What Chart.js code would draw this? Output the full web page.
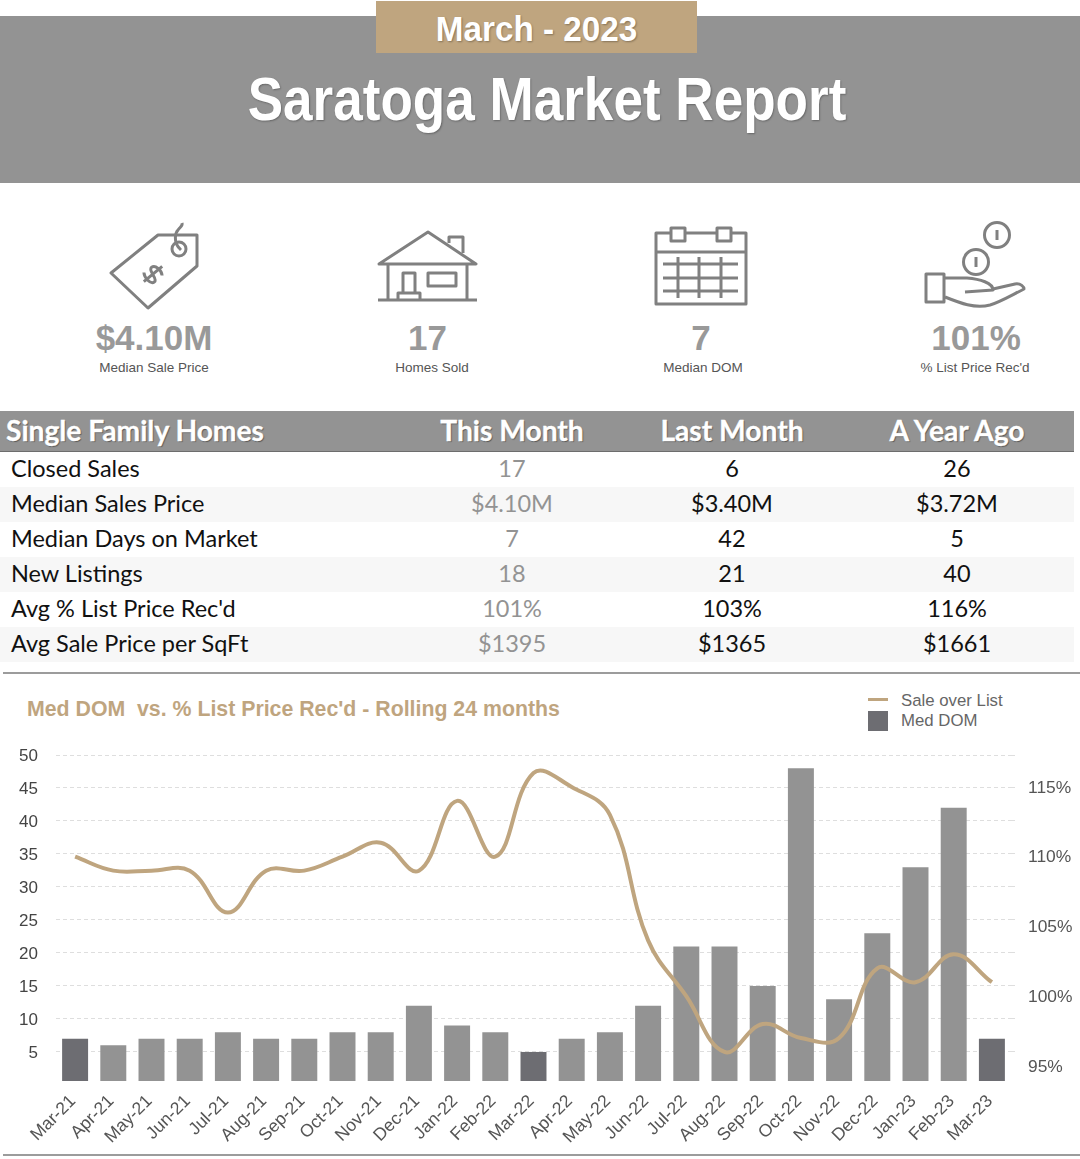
<!DOCTYPE html>
<html>
<head>
<meta charset="utf-8">
<title>Saratoga Market Report</title>
<script src="https://cdn.jsdelivr.net/npm/chart.js@4"></script>
<style>
html, body { margin: 0; padding: 0; background: #fff; }
#page { position: relative; width: 1080px; height: 1159px; overflow: hidden; }
#page div { position: absolute; }
#band { left: 0; top: 16px; width: 1080px; height: 167px; background: #939393; }
#month { left: 376px; top: 1px; width: 321px; height: 52px; background: #bfa57f; }
#monthText { left: 376px; top: 1px; width: 321px; color: #fff; text-align: center; transform: scaleX(.95);
  font: bold 35px/55px "Liberation Sans", sans-serif; text-shadow: 1px 1px 2px rgba(0,0,0,.3); }
#report { left: 0; top: 62px; width: 1094px; text-align: center; color: #fff; transform: scaleX(.87); font: bold 61px/74px "Liberation Sans", sans-serif; text-shadow: 1px 1px 2px rgba(0,0,0,.3); }
#icons { position: absolute; left: 0; top: 0; }
#icons * { fill: none; stroke: #808080; stroke-width: 3; stroke-linejoin: round; }
.kpi { width: 240px; text-align: center; top: 319px; }
.kpi b { display: block; font: bold 35px/38px "Liberation Sans", sans-serif; color: #999; }
.kpi span { display: block; font: 13.5px/20px "Liberation Sans", sans-serif; color: #555; padding-top: 1px; }
#tbl { position: absolute; left: 0; top: 411px; width: 1074px; border-collapse: collapse; table-layout: fixed; font: 23.5px "Lato", sans-serif; color: #111; }
#tbl th { background: #939393; color: #fff; font: bold 28.2px/38px "Lato", sans-serif; height: 38px; padding: 0 0 2px; border-bottom: 1px solid #6d6d6d; text-shadow: 1px 1px 1px rgba(0,0,0,.4); -webkit-text-stroke: .3px #fff; }
#tbl th:first-child { text-align: left; padding-left: 6px; }
#tbl td { height: 32px; padding: 0 0 3px; text-align: center; }
#tbl td:first-child { text-align: left; padding-left: 11px; }
#tbl td:nth-child(2) { color: #939393; }
#tbl tr:nth-child(even) td { background: #f7f7f7; }
.rule { height: 2px; background: #9c9c9c; }
#chart { position: absolute; left: 0; top: 680px; }
#title { left: 27px; top: 695px; font: bold 21.3px/28px "Liberation Sans", sans-serif; color: #bfa57f; white-space: pre; }
.leg { left: 901px; font: 16.8px/20px "Liberation Sans", sans-serif; color: #666; }
</style>
</head>
<body>
<div id="page">
  <div id="band"></div>
  <div id="month"></div>
  <div id="monthText">March - 2023</div>
  <div id="report">Saratoga Market Report</div>

  <svg id="icons" width="1080" height="400">
    <!-- price tag -->
    <path d="M158 235 L197 235 L197 266 L148 308 L111 273 Z"/>
    <circle cx="179" cy="249" r="7"/>
    <path d="M181 250 C172 242 176 232 178 230 C180 227 183 226 182 223"/>
    <path transform="translate(153 274) rotate(50)" d="M7 -6 C3 -9 -6 -8 -6 -3 C-6 2 7 -1 7 4 C7 9 -3 9 -7 6 M0 -12 L0 12"/>
    <!-- house -->
    <path d="M379 264 L428 232 L476 264 Z"/>
    <path d="M388 264 L388 300 M467 264 L467 300 M378 300 L477 300"/>
    <path d="M403 293 L403 273 L415 273 L415 293 M398 300 L398 293 L420 293 L420 300"/>
    <rect x="428" y="273" width="28" height="13"/>
    <path d="M449 243 L449 237 L463 237 L463 253"/>
    <!-- calendar -->
    <rect x="656" y="233" width="90" height="71"/>
    <path d="M656 252 L746 252"/>
    <rect x="671" y="228" width="14" height="13" style="fill:#fff"/>
    <rect x="717" y="228" width="14" height="13" style="fill:#fff"/>
    <path d="M663 264 L738 264 M663 278 L738 278 M663 291 L738 291 M678 257 L678 298 M699 257 L699 298 M721 257 L721 298"/>
    <!-- hand with coins -->
    <circle cx="997" cy="235" r="12.5"/>
    <path d="M997 230 L997 240"/>
    <circle cx="976" cy="262" r="12.5"/>
    <path d="M976 257 L976 267"/>
    <rect x="926" y="274" width="18" height="28"/>
    <path d="M945 278 L967 278 C980 279 993 283 993 290 L965 292"/>
    <path d="M993 289 L1015 284 C1021 283 1024 287 1024 289 C1010 296 1000 302 990 305 C975 309 960 303 945 297"/>
  </svg>

  <div class="kpi" style="left:34px"><b>$4.10M</b><span>Median Sale Price</span></div>
  <div class="kpi" style="left:312px"><b style="margin-left:-9px">17</b><span>Homes Sold</span></div>
  <div class="kpi" style="left:583px"><b style="margin-left:-4px">7</b><span>Median DOM</span></div>
  <div class="kpi" style="left:855px"><b style="margin-left:2px">101%</b><span>% List Price Rec'd</span></div>

  <table id="tbl">
    <colgroup><col style="width:400px"><col style="width:224px"><col style="width:216px"><col style="width:234px"></colgroup>
    <thead><tr><th>Single Family Homes</th><th>This Month</th><th>Last Month</th><th>A Year Ago</th></tr></thead>
    <tbody>
      <tr><td>Closed Sales</td><td>17</td><td>6</td><td>26</td></tr>
      <tr><td>Median Sales Price</td><td>$4.10M</td><td>$3.40M</td><td>$3.72M</td></tr>
      <tr><td>Median Days on Market</td><td>7</td><td>42</td><td>5</td></tr>
      <tr><td>New Listings</td><td>18</td><td>21</td><td>40</td></tr>
      <tr><td>Avg % List Price Rec'd</td><td>101%</td><td>103%</td><td>116%</td></tr>
      <tr><td>Avg Sale Price per SqFt</td><td>$1395</td><td>$1365</td><td>$1661</td></tr>
    </tbody>
  </table>

  <div class="rule" style="left:3px;top:672px;width:1077px"></div>
  <div id="title">Med DOM  vs. % List Price Rec'd - Rolling 24 months</div>
  <div style="left:868px;top:698px;width:20px;height:3px;background:#bfa57f"></div>
  <div style="left:868px;top:711px;width:20px;height:20px;background:#6d6d72"></div>
  <div class="leg" id="leg0" style="top:691px"></div>
  <div class="leg" id="leg1" style="top:711px"></div>
  <canvas id="chart" width="1080" height="470" style="width:1080px;height:470px"></canvas>
  <div class="rule" style="left:3px;top:1154px;width:1077px"></div>
</div>

<script>
const months = ["Mar-21", "Apr-21", "May-21", "Jun-21", "Jul-21", "Aug-21", "Sep-21", "Oct-21", "Nov-21", "Dec-21", "Jan-22", "Feb-22",
    "Mar-22", "Apr-22", "May-22", "Jun-22", "Jul-22", "Aug-22", "Sep-22", "Oct-22", "Nov-22", "Dec-22", "Jan-23", "Feb-23", "Mar-23"];
const medDom = [7, 6, 7, 7, 8, 7, 7, 8, 8, 12, 9, 8, 5, 7, 8, 12, 21, 21, 15, 48, 13, 23, 33, 42, 7];
const saleOverList = [110, 109, 109, 109, 106, 109, 109, 110, 111, 109, 114, 110, 116, 115, 113, 104, 100, 96, 98, 97, 97, 102, 101, 103, 101];
const domTicks = [5, 10, 15, 20, 25, 30, 35, 40, 45, 50];
const pctTicks = [95, 100, 105, 110, 115];
const highlighted = ["Mar-21", "Mar-22", "Mar-23"];

const gold = "#bfa57f";
const grey = "#939393";
const dark = "#6d6d72";
const tickFont = { family: "Liberation Sans", size: 17 };

new Chart(document.getElementById("chart"), {
    type: "bar",
    data: {
        labels: months,
        datasets: [
            {
                type: "line",
                label: "Sale over List",
                data: saleOverList,
                yAxisID: "pct",
                borderColor: gold,
                backgroundColor: gold,
                borderWidth: 4,
                tension: 0.4,
                pointRadius: 0,
                order: 1
            },
            {
                label: "Med DOM",
                data: medDom,
                yAxisID: "dom",
                backgroundColor: months.map(m => highlighted.includes(m) ? dark : grey),
                barPercentage: 0.68,
                categoryPercentage: 1,
                order: 2
            }
        ]
    },
    options: {
        responsive: false,
        animation: false,
        layout: { padding: { top: 75 } },
        plugins: { legend: { display: false }, tooltip: { enabled: false } },
        scales: {
            x: {
                grid: { display: false },
                border: { display: false },
                afterFit: s => { s.height = 69; },
                ticks: { font: { family: "Liberation Sans", size: 17.6 }, color: "#555", minRotation: 45, maxRotation: 45, autoSkip: false, padding: 2, labelOffset: -2 }
            },
            dom: {
                position: "left",
                min: 0.6,
                max: 50,
                afterBuildTicks: s => { s.ticks = domTicks.map(value => ({ value })); },
                afterFit: s => { s.width = 56; },
                border: { display: false, dash: [4, 3] },
                grid: { color: "#dedede", drawTicks: false },
                ticks: { font: tickFont, color: "#444", padding: 18, labelOffset: 1 }
            },
            // same range as dom, only carries the gridlines on past the last bar
            domEdge: {
                position: "right",
                weight: 0,
                min: 0.6,
                max: 50,
                afterBuildTicks: s => { s.ticks = domTicks.map(value => ({ value })); },
                afterFit: s => { s.width = 0; },
                border: { display: false },
                grid: { drawOnChartArea: false, color: "#dedede", tickLength: 7, tickBorderDash: [4, 3] },
                ticks: { display: false }
            },
            pct: {
                position: "right",
                weight: 1,
                min: 93.92,
                max: 117.29,
                afterBuildTicks: s => { s.ticks = pctTicks.map(value => ({ value })); },
                afterFit: s => { s.width = 69; },
                border: { display: false },
                grid: { display: false },
                ticks: { font: { family: "Liberation Sans", size: 17.4 }, color: "#555", padding: 9, labelOffset: 1, callback: v => v + "%" }
            }
        }
    }
});

// legend text comes from the dataset names
document.getElementById("leg0").textContent = Chart.getChart("chart").data.datasets[0].label;
document.getElementById("leg1").textContent = Chart.getChart("chart").data.datasets[1].label;
</script>
</body>
</html>
